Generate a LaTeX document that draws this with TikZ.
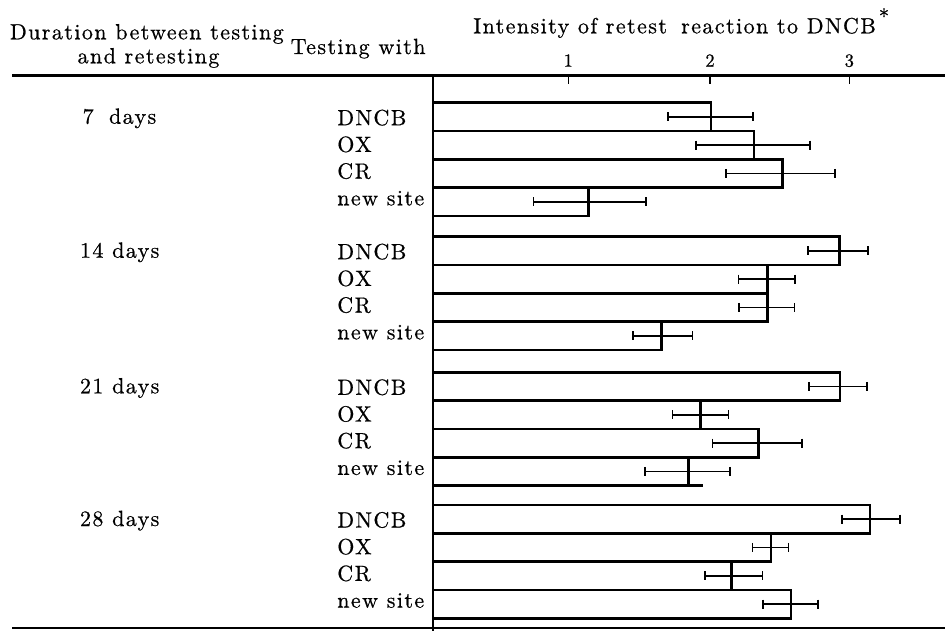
\documentclass[tikz,border=0pt]{standalone}
\usepackage{fontspec}
\setmainfont{lmroman10-regular.otf}[LetterSpace=6.5, FakeBold=0.6]
\newcommand\drawbar[4]{%
  % #1 top edge, #2 right end, #3 / #4 error-bar ends
  \pgfmathsetmacro\barbot{#1+28.3}%
  \pgfmathsetmacro\barmid{#1+14.15}%
  \draw[barline] (433,#1) rectangle (#2,\barbot);
  \draw[errline] (#3,\barmid) -- (#4,\barmid);
  \draw[errline] (#3,\barmid-4.5) -- (#3,\barmid+4.5);
  \draw[errline] (#4,\barmid-4.5) -- (#4,\barmid+4.5);
}
\begin{document}
\begin{tikzpicture}[x=1pt,y=-1pt,
  barline/.style={line width=2.6pt, line join=miter},
  errline/.style={line width=1.6pt},
  rule/.style={line width=2.2pt},
  lbl/.style={anchor=base west, inner sep=0pt, outer sep=0pt, font=\fontsize{22}{26}\selectfont},
  ticklbl/.style={anchor=base, inner sep=0pt, outer sep=0pt, font=\fontsize{18.5}{22}\selectfont}]
\useasboundingbox (0,0) rectangle (945,631);

% header texts
\node[lbl] (hdur) at (10,39.3) {Duration between testing};
\node[lbl, anchor=base] (hret) at (148.5,63.3) {and retesting};
\node[lbl] (htest) at (290.7,54) {Testing with};
\node[lbl] (htitle) at (473.3,33.3) {Intensity of retest\hspace{0.25em} reaction to DNCB};
\node[inner sep=0pt, font=\fontsize{21}{24}\selectfont] (hstar) at (884,16) {*};

% rules and value axis
\coordinate (ruleL) at (12,75.5);
\coordinate (ruleR) at (945,75.5);
\coordinate (botL) at (12,628.3);
\coordinate (botR) at (945,628.3);
\coordinate (axT) at (433,75.5);
\coordinate (axB) at (433,631);
\draw[rule] (ruleL) -- (ruleR);
\draw[rule] (botL) -- (botR);
\draw[rule] (axT) -- (axB);

% scale ticks
\foreach \v/\x in {1/568.3, 2/710, 3/849.3}{
  \coordinate (tk\v) at (\x,75.5);
  \coordinate (tkb\v) at (\x,84.5);
  \draw[errline] (tk\v) -- (tkb\v);
  \node[ticklbl] (tl\v) at (\x,66.7) {\v};
}

% 7 days
\drawbar{102.7}{711}{667.7}{752.7}
\drawbar{131.0}{754}{696}{810}
\drawbar{159.3}{782.7}{725.7}{835}
\drawbar{187.6}{588.3}{533.3}{645.7}
% 14 days
\drawbar{236.7}{839.3}{807.7}{867.7}
\drawbar{265.0}{767.7}{738.3}{795}
\drawbar{293.3}{767.7}{739}{794.3}
\drawbar{321.6}{661.7}{632.7}{692.3}
% 21 days
\drawbar{372.3}{840}{809}{866.7}
\drawbar{400.6}{700.7}{672.3}{728.3}
\drawbar{428.9}{758.3}{712.3}{801.7}
\drawbar{457.2}{688.3}{645}{730}
\draw[barline] (688.3,485.5) -- (702.7,485.5);
% 28 days
\drawbar{505.0}{870}{841.7}{900}
\drawbar{533.3}{771}{752.3}{788.3}
\drawbar{561.6}{731.7}{705}{762.3}
\drawbar{589.9}{791}{762.7}{817.7}

% duration labels
\node[lbl] (d7) at (82.7,123.7) {7\hspace{0.3em} days};
\node[lbl] (d14) at (80,257.7) {14 days};
\node[lbl] (d21) at (80,393.3) {21 days};
\node[lbl] (d28) at (80,526) {28 days};

% substance labels
\foreach \g/\t in {a/102.7, b/236.7, c/372.3, d/505}{
  \node[lbl] (dncb\g) at (337.3,\t+22.5) {DNCB};
  \node[lbl] (ox\g) at (337.3,\t+49.2) {OX};
  \node[lbl] (cr\g) at (337.3,\t+75.9) {CR};
  \node[lbl] (new\g) at (337.3,\t+102.6) {new site};
}
\end{tikzpicture}
\end{document}
